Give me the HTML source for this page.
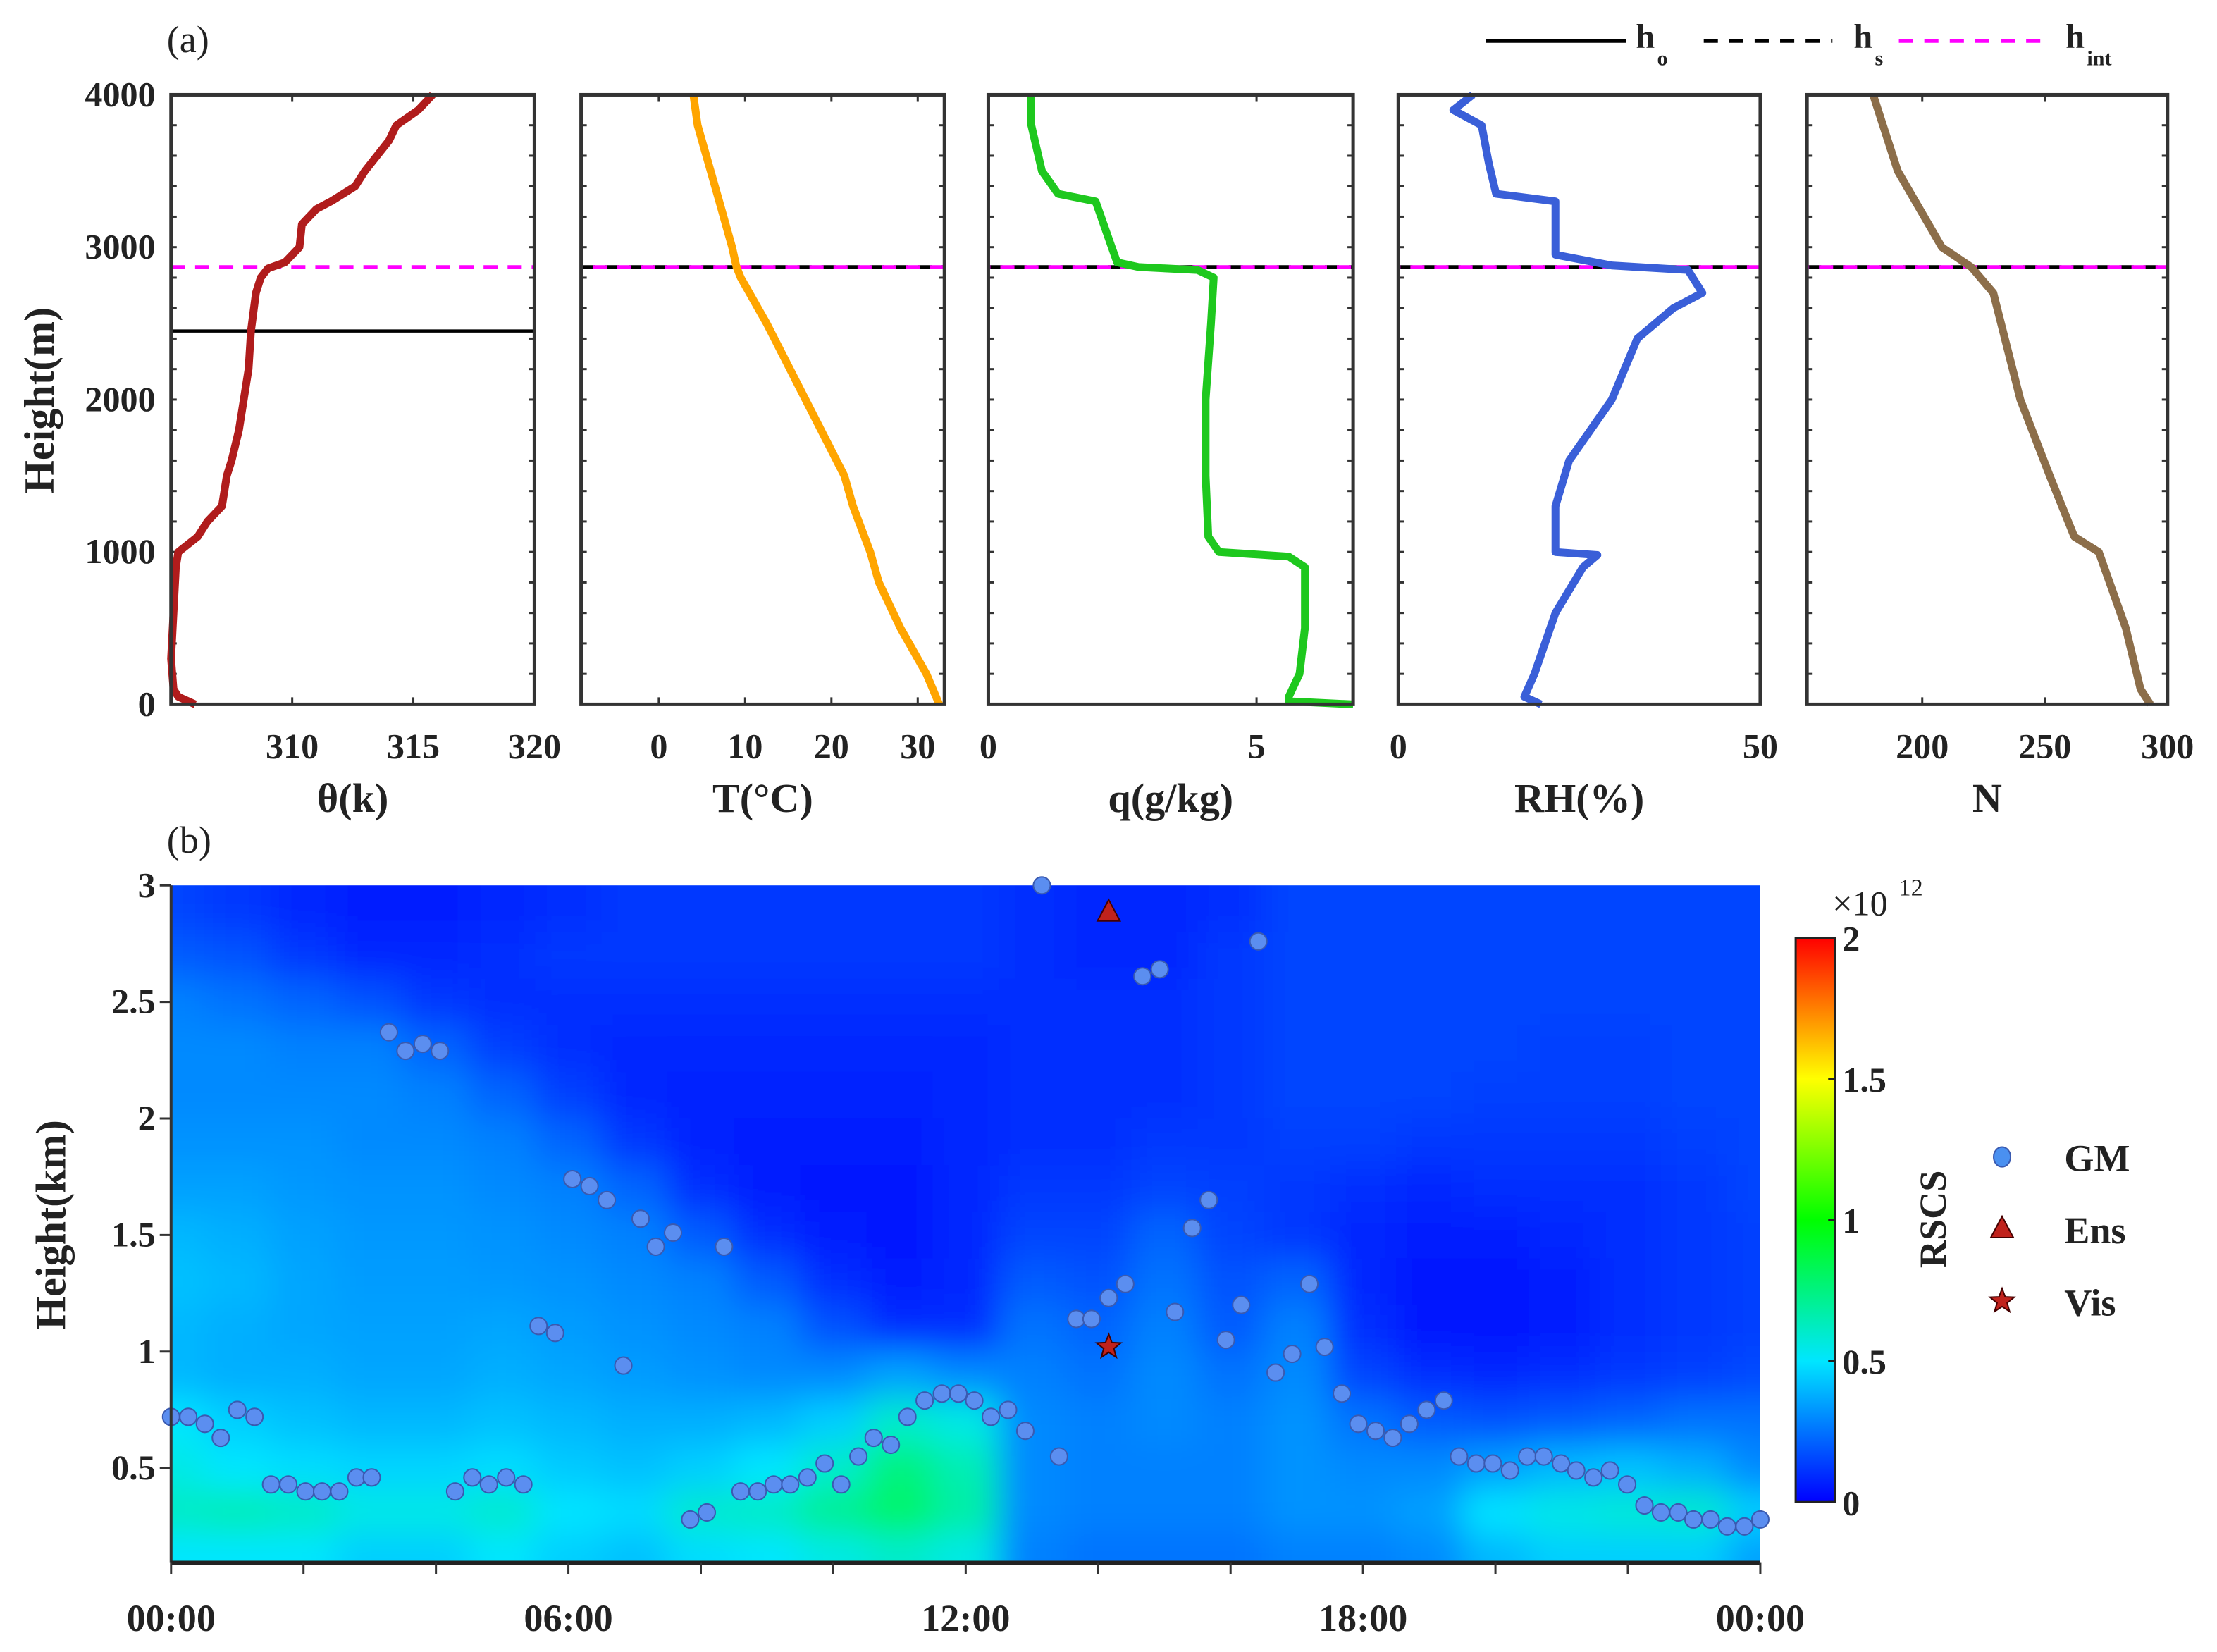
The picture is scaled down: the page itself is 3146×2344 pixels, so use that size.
<!DOCTYPE html>
<html><head><meta charset="utf-8"><style>
html,body{margin:0;padding:0;background:#fff}
svg{display:block}
text{font-family:"Liberation Serif",serif;fill:#222}
</style></head><body>
<svg id="fig" width="3146" height="2344" viewBox="0 0 1568 1168" preserveAspectRatio="none" xmlns="http://www.w3.org/2000/svg">
<defs>
<filter id="blur" x="-10%" y="-10%" width="120%" height="120%"><feGaussianBlur stdDeviation="12"/></filter>
<clipPath id="clipB"><rect x="121" y="626" width="1124" height="479"/></clipPath>
<linearGradient id="cbar" x1="0" y1="1" x2="0" y2="0">
<stop offset="0" stop-color="rgb(0,0,255)"/><stop offset="0.25" stop-color="rgb(0,230,255)"/>
<stop offset="0.5" stop-color="rgb(0,255,0)"/><stop offset="0.75" stop-color="rgb(255,255,0)"/>
<stop offset="1" stop-color="rgb(255,0,0)"/></linearGradient>
</defs>
<g id="root"></g>
</svg>
<script>
// ---------- data: panel (a) profiles (height m, value) ----------
const thetaH=[0,50,100,300,600,900,1000,1100,1200,1300,1500,1600,1800,2000,2200,2450,2700,2800,2860,2900,3000,3150,3250,3300,3400,3500,3700,3800,3900,4000];
const thetaV=[306.0,305.3,305.1,305.0,305.1,305.2,305.3,306.1,306.5,307.1,307.3,307.5,307.8,308.0,308.2,308.3,308.5,308.7,309.0,309.7,310.3,310.4,311.0,311.6,312.6,313.0,314.0,314.3,315.2,315.8];
const tempH=[0,200,500,800,1000,1300,1500,2000,2500,2800,2870,3000,3300,3500,3800,4000];
const tempV=[32.5,31,28,25.5,24.5,22.5,21.5,17,12.5,9.5,9,8.5,7,6,4.5,4];
const qH=[0,20,50,200,500,900,970,1000,1100,1500,2000,2500,2800,2850,2870,2900,3000,3300,3350,3500,3800,4000];
const qV=[6.8,5.6,5.6,5.8,5.9,5.9,5.6,4.3,4.1,4.05,4.05,4.15,4.2,3.9,2.8,2.4,2.3,2.0,1.3,1.0,0.8,0.8];
const rhH=[0,50,200,600,900,980,1000,1300,1600,2000,2400,2600,2700,2850,2880,2950,3300,3350,3550,3800,3900,4000];
const rhV=[19.7,17.4,18.8,21.7,25.5,27.5,21.7,21.7,23.6,29.5,33,38,42,40,29.5,21.7,21.7,13.5,12.5,11.5,7.6,10.3];
const nH=[0,100,500,1000,1100,1500,2000,2700,2870,3000,3500,4000];
const nV=[293,289,283,272,262,252,240,229,220,208,190,180];
const hO=[2450,2870,2870,2870,2870];
const hS=[null,2870,2870,2870,2870];
const hInt=[2870,2870,2870,2870,2870];
const xTicks=[[310,315,320],[0,10,20,30],[0,5],[0,50],[200,250,300]];
const yTicksA=[0,1000,2000,3000,4000];
// ---------- data: panel (b) ----------
const heatHours=[0,1,2,3,4,5,6,7,8,9,10,11,12,13,14,15,16,17,18,19,20,21,22,23,24];
const heatKm=[2.9,2.7,2.5,2.3,2.1,1.9,1.7,1.5,1.3,1.1,0.9,0.7,0.5,0.3,0.15];
const heatVals=[
[0.15,0.12,0.08,0.06,0.06,0.08,0.1,0.12,0.12,0.12,0.12,0.12,0.12,0.1,0.08,0.08,0.1,0.15,0.15,0.15,0.15,0.15,0.15,0.15,0.15],
[0.2,0.18,0.12,0.08,0.08,0.1,0.12,0.12,0.12,0.12,0.12,0.12,0.12,0.1,0.08,0.08,0.12,0.15,0.15,0.15,0.15,0.15,0.15,0.15,0.15],
[0.28,0.25,0.22,0.18,0.12,0.1,0.1,0.1,0.1,0.1,0.1,0.1,0.1,0.1,0.1,0.1,0.12,0.15,0.15,0.15,0.15,0.15,0.15,0.15,0.15],
[0.3,0.3,0.28,0.28,0.22,0.14,0.1,0.08,0.08,0.08,0.08,0.08,0.08,0.1,0.1,0.1,0.12,0.15,0.15,0.15,0.15,0.14,0.14,0.15,0.15],
[0.3,0.3,0.3,0.3,0.28,0.22,0.14,0.08,0.07,0.07,0.07,0.07,0.08,0.1,0.1,0.1,0.12,0.15,0.15,0.15,0.14,0.14,0.14,0.15,0.15],
[0.32,0.32,0.32,0.3,0.3,0.28,0.22,0.12,0.07,0.06,0.06,0.06,0.08,0.1,0.1,0.12,0.12,0.14,0.14,0.12,0.12,0.12,0.12,0.14,0.15],
[0.35,0.35,0.33,0.32,0.32,0.3,0.28,0.22,0.1,0.06,0.05,0.05,0.08,0.12,0.12,0.15,0.14,0.12,0.1,0.08,0.1,0.1,0.1,0.12,0.15],
[0.4,0.38,0.35,0.33,0.33,0.32,0.3,0.28,0.2,0.1,0.06,0.05,0.08,0.15,0.15,0.22,0.15,0.12,0.08,0.06,0.06,0.08,0.1,0.12,0.14],
[0.42,0.4,0.36,0.34,0.34,0.33,0.32,0.3,0.28,0.2,0.1,0.06,0.08,0.2,0.18,0.25,0.18,0.22,0.08,0.04,0.04,0.06,0.1,0.12,0.14],
[0.4,0.38,0.36,0.35,0.35,0.36,0.34,0.32,0.3,0.28,0.18,0.1,0.1,0.25,0.22,0.28,0.2,0.28,0.1,0.05,0.04,0.06,0.1,0.12,0.14],
[0.4,0.38,0.38,0.36,0.36,0.38,0.36,0.34,0.32,0.3,0.3,0.35,0.3,0.28,0.25,0.3,0.25,0.3,0.15,0.1,0.08,0.1,0.12,0.14,0.16],
[0.5,0.45,0.42,0.4,0.4,0.42,0.4,0.38,0.38,0.4,0.45,0.6,0.55,0.3,0.28,0.3,0.28,0.32,0.25,0.2,0.18,0.2,0.22,0.25,0.25],
[0.55,0.5,0.48,0.46,0.46,0.48,0.44,0.42,0.45,0.5,0.6,0.75,0.65,0.3,0.28,0.28,0.28,0.32,0.3,0.3,0.35,0.4,0.42,0.38,0.3],
[0.62,0.65,0.62,0.55,0.55,0.6,0.5,0.48,0.6,0.62,0.72,0.8,0.68,0.3,0.28,0.28,0.28,0.32,0.32,0.35,0.5,0.55,0.58,0.6,0.45],
[0.5,0.5,0.5,0.45,0.45,0.5,0.45,0.42,0.48,0.5,0.55,0.6,0.55,0.28,0.25,0.25,0.25,0.28,0.28,0.3,0.4,0.45,0.45,0.45,0.35]];
const gmHours=[0,0.26,0.51,0.75,1.0,1.26,1.51,1.77,2.03,2.28,2.54,2.80,3.03,3.29,3.54,3.80,4.06,4.29,4.55,4.80,5.06,5.32,5.55,5.80,6.06,6.32,6.58,6.83,7.09,7.32,7.58,7.84,8.09,8.35,8.60,8.86,9.10,9.35,9.61,9.87,10.12,10.38,10.61,10.87,11.12,11.38,11.64,11.89,12.13,12.38,12.64,12.90,13.15,13.41,13.67,13.90,14.16,14.41,14.67,14.93,15.16,15.42,15.67,15.93,16.16,16.42,16.68,16.93,17.19,17.42,17.68,17.93,18.19,18.45,18.70,18.96,19.22,19.45,19.71,19.96,20.22,20.48,20.73,20.99,21.22,21.48,21.73,21.99,22.25,22.50,22.76,22.99,23.25,23.50,23.76,24];
const gmKm=[0.72,0.72,0.69,0.63,0.75,0.72,0.43,0.43,0.40,0.40,0.40,0.46,0.46,2.37,2.29,2.32,2.29,0.40,0.46,0.43,0.46,0.43,1.11,1.08,1.74,1.71,1.65,0.94,1.57,1.45,1.51,0.28,0.31,1.45,0.40,0.40,0.43,0.43,0.46,0.52,0.43,0.55,0.63,0.60,0.72,0.79,0.82,0.82,0.79,0.72,0.75,0.66,3.0,0.55,1.14,1.14,1.23,1.29,2.61,2.64,1.17,1.53,1.65,1.05,1.20,2.76,0.91,0.99,1.29,1.02,0.82,0.69,0.66,0.63,0.69,0.75,0.79,0.55,0.52,0.52,0.49,0.55,0.55,0.52,0.49,0.46,0.49,0.43,0.34,0.31,0.31,0.28,0.28,0.25,0.25,0.28];
const ensPoint=[14.16,2.89];
const visPoint=[14.16,1.02];
const timeTicks=[0,6,12,18,24];
const timeLabels=["00:00","06:00","12:00","18:00","00:00"];
const yTicksB=[0.5,1,1.5,2,2.5,3];
const cbTicks=[0,0.5,1,1.5,2];

// ---------- drawing ----------
const NS="http://www.w3.org/2000/svg";
const root=document.getElementById('root');
function mk(tag,attrs,parent,txt){const e=document.createElementNS(NS,tag);for(const k in attrs)e.setAttribute(k,attrs[k]);if(txt!==undefined)e.textContent=txt;(parent||root).appendChild(e);return e;}

const panels=[
 {x0:121,x1:378,min:305,max:320,H:thetaH,V:thetaV,c:"#b01c1c",lab:"θ(k)",name:"theta"},
 {x0:411,x1:668,min:-9,max:33.1,H:tempH,V:tempV,c:"#ffa500",lab:"T(°C)",name:"temperature"},
 {x0:699,x1:957,min:0,max:6.8,H:qH,V:qV,c:"#1ec81e",lab:"q(g/kg)",name:"humidity"},
 {x0:989,x1:1245,min:0,max:50,H:rhH,V:rhV,c:"#3a5fd8",lab:"RH(%)",name:"rh"},
 {x0:1278,x1:1533,min:153,max:300,H:nH,V:nV,c:"#8c6e4a",lab:"N",name:"refractivity"}];
const yA=h=>498-(h/4000)*431;
panels.forEach((p,i)=>{
  const sx=v=>p.x0+(v-p.min)/(p.max-p.min)*(p.x1-p.x0);
  const g=mk('g',{});
  
  
  for(let h=0;h<=4000;h+=200){
    mk('line',{x1:p.x0,x2:p.x0+4,y1:yA(h),y2:yA(h),stroke:"#333","stroke-width":1.5},g);
    mk('line',{x1:p.x1,x2:p.x1-4,y1:yA(h),y2:yA(h),stroke:"#333","stroke-width":1.5},g);
  }
  xTicks[i].forEach(v=>{
    mk('line',{x1:sx(v),x2:sx(v),y1:498,y2:493,stroke:"#333","stroke-width":1.5},g);
    mk('line',{x1:sx(v),x2:sx(v),y1:67,y2:72,stroke:"#333","stroke-width":1.5},g);
    const t=mk('text',{x:sx(v),y:536,"text-anchor":"middle","font-size":25,"font-weight":"bold"},g,String(v));
    
  });
  const xl=mk('text',{x:(p.x0+p.x1)/2,y:574,"text-anchor":"middle","font-size":29,"font-weight":"bold"},g,p.lab);
  
  if(hO[i]!==null){const l=mk('line',{x1:p.x0,x2:p.x1,y1:yA(hO[i]),y2:yA(hO[i]),stroke:"#000","stroke-width":2.2},g);}
  if(hS[i]!==null){const l=mk('line',{x1:p.x0,x2:p.x1,y1:yA(hS[i]),y2:yA(hS[i]),stroke:"#000","stroke-width":2.5,"stroke-dasharray":"10 7"},g);}
  const li=mk('line',{x1:p.x0,x2:p.x1,y1:yA(hInt[i]),y2:yA(hInt[i]),stroke:"#ff00ff","stroke-width":2.5,"stroke-dasharray":"10 7","stroke-dashoffset":(hS[i]!==null?8.5:0)},g);
  
  const pts=p.H.map((h,k)=>sx(p.V[k]).toFixed(1)+","+yA(h).toFixed(1)).join(" ");
  const pl=mk('polyline',{points:pts,fill:"none",stroke:p.c,"stroke-width":5.5,"stroke-linejoin":"round"},g);
  
  const fr=mk('rect',{x:p.x0,y:67,width:p.x1-p.x0,height:431,fill:"none",stroke:"#333","stroke-width":2.5},g);
  
});
yTicksA.forEach(h=>{const t=mk('text',{x:110,y:yA(h)+8,"text-anchor":"end","font-size":25,"font-weight":"bold"},root,String(h));
 });
let t=mk('text',{x:0,y:0,transform:"translate(38,283) rotate(-90)","text-anchor":"middle","font-size":30,"font-weight":"bold"},root,"Height(m)");

t=mk('text',{x:118,y:37,"font-size":27},root,"(a)");
t=mk('text',{x:118,y:603,"font-size":27},root,"(b)");

const lg=mk('g',{});
mk('line',{x1:1051,x2:1150,y1:29,y2:29,stroke:"#000","stroke-width":2.5},lg);
mk('text',{x:1157,y:34,"font-size":24,"font-weight":"bold"},lg,"h");
mk('text',{x:1172,y:46,"font-size":15,"font-weight":"bold"},lg,"o");
mk('line',{x1:1205,x2:1296,y1:29,y2:29,stroke:"#000","stroke-width":2.5,"stroke-dasharray":"10 8"},lg);
mk('text',{x:1311,y:34,"font-size":24,"font-weight":"bold"},lg,"h");
mk('text',{x:1326,y:46,"font-size":15,"font-weight":"bold"},lg,"s");
mk('line',{x1:1343,x2:1450,y1:29,y2:29,stroke:"#ff00ff","stroke-width":2.5,"stroke-dasharray":"10 8"},lg);
mk('text',{x:1461,y:34,"font-size":24,"font-weight":"bold"},lg,"h");
mk('text',{x:1476,y:46,"font-size":15,"font-weight":"bold"},lg,"int");

// panel b
const bx=h=>121+h/24*1124;
const by=k=>1038-(k-0.5)*164.8;
function cmap(v){const f=Math.max(0,Math.min(1,v/2));
 const st=[[0,[0,0,255]],[0.25,[0,230,255]],[0.5,[0,255,0]],[0.75,[255,255,0]],[1,[255,0,0]]];
 for(let i=0;i<4;i++){if(f<=st[i+1][0]){const a=st[i],b=st[i+1],u=(f-a[0])/(b[0]-a[0]);
  return "rgb("+a[1].map((c,j)=>Math.round(c+(b[1][j]-c)*u)).join(",")+")";}}return "rgb(255,0,0)";}
const hg=mk('g',{"clip-path":"url(#clipB)"});
mk('rect',{x:121,y:626,width:1124,height:479,fill:cmap(0.2)},hg);
const hb=mk('g',{filter:"url(#blur)"},hg);
heatKm.forEach((k,r)=>{const top=r===0?3.3:(k+heatKm[r-1])/2;const bot=r===heatKm.length-1?-0.2:(k+heatKm[r+1])/2;
 heatHours.forEach((h,c)=>{const l=c===0?-2:h-0.5,rr=c===heatHours.length-1?26:h+0.5;
  const cell=mk('rect',{x:bx(l),y:by(top),width:bx(rr)-bx(l)+0.5,height:by(bot)-by(top)+0.5,fill:cmap(heatVals[r][c])},hb);
  });});
gmHours.forEach((h,i)=>{const c=mk('ellipse',{cx:bx(h),cy:by(gmKm[i]),rx:6,ry:6,fill:"#5b8ef0",stroke:"#3a5ab0","stroke-width":1},root);
 });
const ex=bx(ensPoint[0]),ey=by(ensPoint[1]);
t=mk('polygon',{points:`${ex},${ey-8} ${ex-8},${ey+7} ${ex+8},${ey+7}`,fill:"#c0221c",stroke:"#400","stroke-width":1},root);

function star(cx,cy,r){let s=[];for(let i=0;i<10;i++){const a=-Math.PI/2+i*Math.PI/5,rr=i%2?r*0.42:r;s.push((cx+rr*Math.cos(a)).toFixed(1)+","+(cy+rr*Math.sin(a)).toFixed(1));}return s.join(" ");}
t=mk('polygon',{points:star(bx(visPoint[0]),by(visPoint[1]),9),fill:"#c0221c",stroke:"#400","stroke-width":1},root);

mk('line',{x1:121,x2:121,y1:626,y2:1105,stroke:"#333","stroke-width":2},root);
mk('line',{x1:121,x2:1245,y1:1105,y2:1105,stroke:"#222","stroke-width":3},root);
for(let h=0;h<=24;h+=2){mk('line',{x1:bx(h),x2:bx(h),y1:1105,y2:1113,stroke:"#333","stroke-width":1.5},root);}
timeTicks.forEach((h,i)=>{const tt=mk('text',{x:bx(h),y:1153,"text-anchor":"middle","font-size":27,"font-weight":"bold"},root,timeLabels[i]);
 });
yTicksB.forEach(k=>{mk('line',{x1:113,x2:121,y1:by(k),y2:by(k),stroke:"#333","stroke-width":1.5},root);
 const tt=mk('text',{x:110,y:by(k)+8,"text-anchor":"end","font-size":25,"font-weight":"bold"},root,String(k));
 });
t=mk('text',{x:0,y:0,transform:"translate(46,866) rotate(-90)","text-anchor":"middle","font-size":30,"font-weight":"bold"},root,"Height(km)");

t=mk('rect',{x:1270,y:663,width:28,height:399,fill:"url(#cbar)",stroke:"#222","stroke-width":1.5},root);

const cy=v=>1062-v/2*399;
cbTicks.forEach(v=>{mk('line',{x1:1293,x2:1298,y1:cy(v),y2:cy(v),stroke:"#222","stroke-width":1.5},root);
 const tt=mk('text',{x:1303,y:cy(v)+9,"font-size":25,"font-weight":"bold"},root,String(v));
 });
t=mk('text',{x:1296,y:647,"font-size":25},root,"×10");
mk('text',{x:1343,y:633,"font-size":17},root,"12");
t=mk('text',{x:0,y:0,transform:"translate(1376,862) rotate(-90)","text-anchor":"middle","font-size":27,"font-weight":"bold"},root,"RSCS");

const lb=mk('g',{});
mk('ellipse',{cx:1416,cy:818,rx:6,ry:7,fill:"#4a90f0",stroke:"#3a5ab0","stroke-width":1},lb);
mk('text',{x:1460,y:828,"font-size":27,"font-weight":"bold"},lb,"GM");
mk('polygon',{points:"1416,860 1408,875 1424,875",fill:"#c0221c",stroke:"#400","stroke-width":1},lb);
mk('text',{x:1460,y:879,"font-size":27,"font-weight":"bold"},lb,"Ens");
mk('polygon',{points:star(1416,920,9),fill:"#c0221c",stroke:"#400","stroke-width":1},lb);
mk('text',{x:1460,y:930,"font-size":27,"font-weight":"bold"},lb,"Vis");
</script>
</body></html>
